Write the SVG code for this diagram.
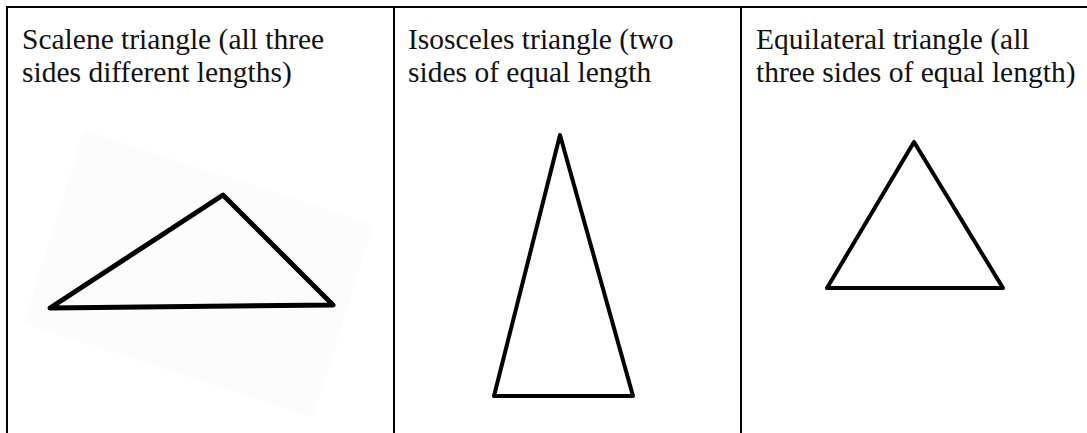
<svg xmlns="http://www.w3.org/2000/svg" width="1087" height="433" viewBox="0 0 1087 433">
<style>
.grid{stroke:#000;stroke-width:2;fill:none}
.lbl{font-family:"Liberation Serif","Times New Roman",serif;font-size:29.5px;fill:#111}
.tri{fill:none;stroke:#000;stroke-linejoin:round;stroke-linecap:round}
</style>
<rect width="1087" height="433" fill="#fff"/>
<g id="grid" class="grid">
<line x1="6" y1="7" x2="1087" y2="7"/>
<line x1="7" y1="6" x2="7" y2="433"/>
<line x1="394" y1="6" x2="394" y2="433"/>
<line x1="741" y1="6" x2="741" y2="433"/>
</g>
<g id="scalene">
<polygon points="84,130 373,225 313,418 24,323" fill="#fcfcfc"/>
<text class="lbl" x="22" y="49">Scalene triangle (all three</text>
<text class="lbl" x="22" y="82">sides different lengths)</text>
<polygon class="tri" stroke-width="5" points="50,308 223,195 333,305"/>
</g>
<g id="isosceles">
<text class="lbl" x="408" y="49">Isosceles triangle (two</text>
<text class="lbl" x="408" y="82">sides of equal length</text>
<polygon class="tri" stroke-width="4" points="560,135 494,396 633,396"/>
</g>
<g id="equilateral">
<text class="lbl" x="756" y="49">Equilateral triangle (all</text>
<text class="lbl" x="756" y="82">three sides of equal length)</text>
<polygon class="tri" stroke-width="4" points="914,142 827,288 1003,288"/>
</g>
</svg>
